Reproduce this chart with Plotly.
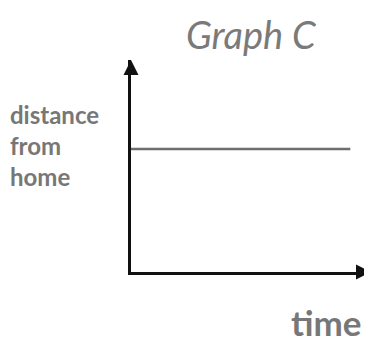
import plotly.graph_objects as go

time = [0.0, 0.91]
distance = [0.58, 0.58]
title_text = "Graph C"
y_label = "distance<br>from<br>home"
x_label = "time"

fig = go.Figure()
fig.add_trace(go.Scatter(x=time, y=distance, mode="lines",
                         line=dict(color="#6e6e6e", width=2.5), showlegend=False,
                         hoverinfo="skip"))

# the page body adds an 8px offset, so the figure is 8px smaller
fig.update_layout(
    width=364, height=334,
    margin=dict(l=123, r=0, t=52, b=70),
    paper_bgcolor="white", plot_bgcolor="white",
    xaxis=dict(range=[0, 1], showline=True, linecolor="#111", linewidth=3,
               showgrid=False, zeroline=False, showticklabels=False, ticks=""),
    yaxis=dict(range=[0, 1], showline=True, linecolor="#111", linewidth=3,
               showgrid=False, zeroline=False, showticklabels=False, ticks=""),
    font=dict(family="Lato", color="#777"),
)

# title
fig.add_annotation(text="<i>" + title_text + "</i>", xref="paper", yref="paper",
                   x=0.5, y=1, yshift=26, xanchor="center", yanchor="middle",
                   showarrow=False, font=dict(size=38, color="#7a7a7a", family="Lato"))
# y label
fig.add_annotation(text="<b>" + y_label + "</b>", xref="paper", yref="paper", x=0, xshift=-123,
                   y=0.58, yshift=4, xanchor="left", yanchor="middle", align="left",
                   showarrow=False, font=dict(size=24, color="#777777", family="Lato"))
# x label
fig.add_annotation(text="<b>" + x_label + "</b>", xref="paper", yref="paper", x=1, y=0,
                   xshift=-8, yshift=-50, xanchor="right", yanchor="middle",
                   showarrow=False, font=dict(size=35, color="#777777", family="Lato"))
# axis arrowheads
fig.add_annotation(x=0, y=1, xref="paper", yref="paper", ax=0, ay=12,
                   showarrow=True, arrowhead=2, arrowsize=1, arrowwidth=3,
                   arrowcolor="#111", text="")
fig.add_annotation(x=1, y=0, xref="paper", yref="paper", ax=-12, ay=0,
                   showarrow=True, arrowhead=2, arrowsize=1, arrowwidth=3,
                   arrowcolor="#111", text="")

fig.write_html("out.html")
